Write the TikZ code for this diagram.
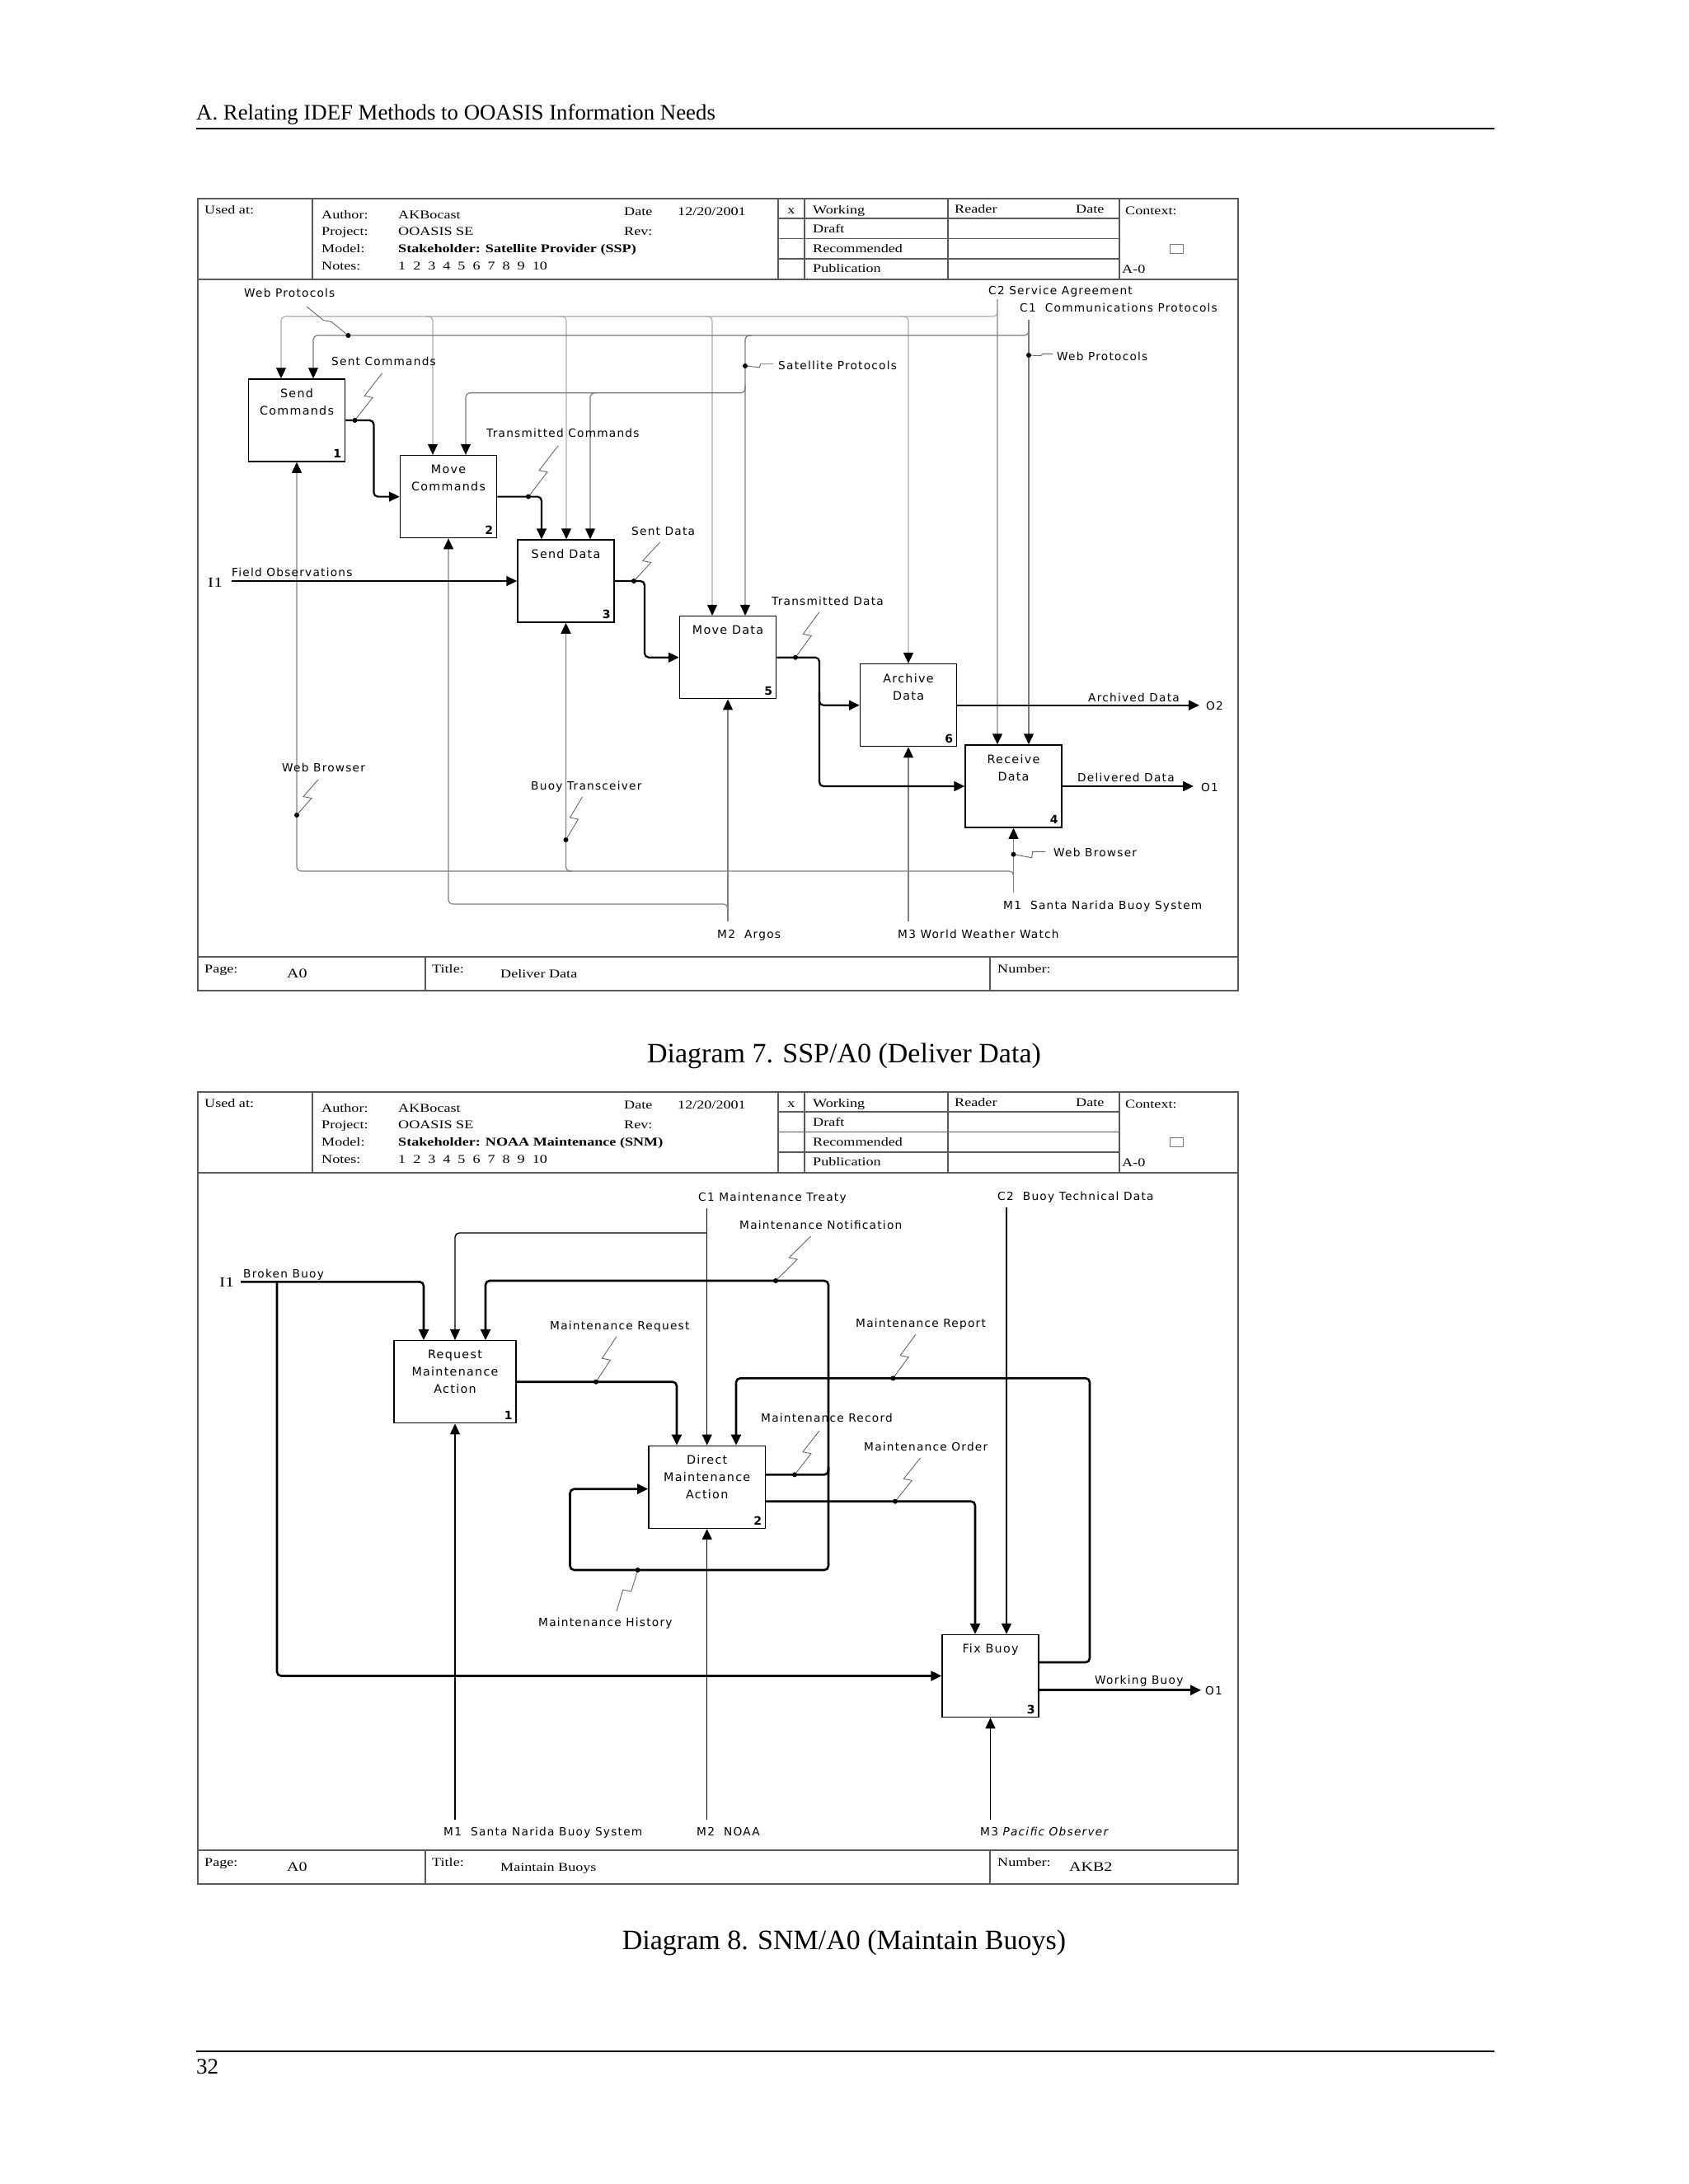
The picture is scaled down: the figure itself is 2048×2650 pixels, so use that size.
\documentclass[tikz,border=0pt]{standalone}
\usepackage{fontspec}
\usepackage{graphicx}
\setmainfont{Liberation Serif}
\newfontfamily\idf[LetterSpace=9]{DejaVu Sans}
\newfontfamily\idfb{DejaVu Sans}
\newfontfamily\hdr[FakeStretch=1.25]{Liberation Serif}
\usetikzlibrary{arrows.meta,calc}
\colorlet{ctwo}{black!32}
\colorlet{cone}{black!52}
\colorlet{cmech}{black!50}

\newcommand\sqg[2]{\draw[sq] (#1) -- ($(#1)!0.5!(#2)+(5,1)$) -- ($(#1)!0.5!(#2)+(-5,-1)$) -- (#2);}

\newcommand\idefframe[4]{%
\begin{scope}[shift={(0,#1)}]
\draw[frm] (240,241) rectangle (1502,1202);
\draw[frm] (240,339) -- (1502,339) (240,1161) -- (1502,1161)
  (379,241) -- (379,339) (944,241) -- (944,339) (976,241) -- (976,339)
  (1150,241) -- (1150,339) (1358,241) -- (1358,339)
  (944,265) -- (1358,265) (944,289.5) -- (1358,289.5) (944,314) -- (1358,314)
  (516,1161) -- (516,1202) (1201,1161) -- (1201,1202);
\draw[black!55, line width=0.8pt] (1419,296) rectangle (1435,307);
\node[hd] at (248,259) {Used at:};
\node[hd] at (390,265) {Author:};
\node[hd] at (390,285.5) {Project:};
\node[hd] at (390,306) {Model:};
\node[hd] at (390,327) {Notes:};
\node[hd] at (483,265) {AKBocast};
\node[hd] at (483,285.5) {OOASIS SE};
\node[hd] at (483,306) {\bfseries #2};
\node[hd] at (483,327) {1\hspace{9pt}2\hspace{9pt}3\hspace{9pt}4\hspace{9pt}5\hspace{9pt}6\hspace{9pt}7\hspace{9pt}8\hspace{9pt}9\hspace{9pt}10};
\node[hd] at (757,261) {Date};
\node[hd] at (822,261) {12/20/2001};
\node[hd] at (757,285.5) {Rev:};
\node[hd,anchor=base] at (960,259) {x};
\node[hd] at (986,259) {Working};
\node[hd] at (986,282) {Draft};
\node[hd] at (986,306) {Recommended};
\node[hd] at (986,330) {Publication};
\node[hd] at (1158,258) {Reader};
\node[hd] at (1305,258) {Date};
\node[hd] at (1365,260) {Context:};
\node[hd] at (1361,331) {A-0};
\node[hd] at (248,1180) {Page:};
\node[hd,font=\hdr\fontsize{16}{18}\selectfont] at (348,1186) {A0};
\node[hd] at (524,1180) {Title:};
\node[hd] at (607,1186) {#3};
\node[hd] at (1210,1180) {Number:};
\node[hd,font=\hdr\fontsize{16}{18}\selectfont] at (1297,1186) {#4};
\end{scope}}

\begin{document}
\begin{tikzpicture}[x=1pt,y=-1pt,
  lbl/.style={font=\idf\fontsize{13.7}{21}\selectfont, inner sep=0pt, anchor=base west},
  hd/.style={font=\hdr\fontsize{14.5}{17}\selectfont, inner sep=0pt, anchor=base west},
  boxt/.style={font=\idf\fontsize{14.3}{21}\selectfont, align=center, anchor=north, inner sep=0pt},
  num/.style={font=\idfb\bfseries\fontsize{14}{16}\selectfont, inner sep=0pt},
  fbox/.style={draw=black, line width=1.5pt, minimum width=117pt, minimum height=100pt, inner sep=0pt},
  frm/.style={draw=black!65, line width=1.3pt},
  arrK/.style={-{Triangle[length=13pt,width=12pt,color=black]}},
  flow/.style={draw=black, line width=2.2pt, rounded corners=5pt},
  flowB/.style={draw=black, line width=2.6pt, rounded corners=5pt},
  ctl/.style={line width=1.2pt, rounded corners=5pt},
  thn/.style={draw=black, line width=1.4pt, rounded corners=5pt},
  sq/.style={draw=black!60, line width=0.9pt},
  dot/.style={circle, fill=black, inner sep=0pt, minimum size=6pt},
]
\useasboundingbox (0,0) rectangle (2048,2650);
\fill[white] (0,0) rectangle (2048,2650);

% page header and footer
\node[font=\fontsize{26.8}{30}\selectfont, anchor=base west, inner sep=0pt] (pghead) at (238,145) {A. Relating IDEF Methods to OOASIS Information Needs};
\draw[line width=2.5pt] (238,156) -- (1813,156);
\draw[line width=2.5pt] (238,2489) -- (1813,2489);
\node[font=\fontsize{27}{30}\selectfont, anchor=base west, inner sep=0pt] (pgnum) at (238,2516) {32};
\node[font=\fontsize{34}{40}\selectfont, anchor=base, inner sep=0pt] (cap7) at (1024,1289) {Diagram 7. SSP/A0 (Deliver Data)};
\node[font=\fontsize{34}{40}\selectfont, anchor=base, inner sep=0pt] (cap8) at (1024,2365) {Diagram 8. SNM/A0 (Maintain Buoys)};

% frames
\idefframe{0}{Stakeholder: Satellite Provider (SSP)}{Deliver Data}{}
\idefframe{1084}{Stakeholder: NOAA Maintenance (SNM)}{Maintain Buoys}{AKB2}

%================ DIAGRAM 7 ================
\node[fbox] (b1) at (360,510) {};
\node[fbox] (b2) at (544,602.6) {};
\node[fbox] (b3) at (686.5,705) {};
\node[fbox] (b5) at (883,797.7) {};
\node[fbox] (b6) at (1102,855.7) {};
\node[fbox] (b4) at (1229.5,954) {};
\node[boxt] (t1) at ($(b1.north)+(0,12)$) {Send\\Commands};
\node[boxt] (t2) at ($(b2.north)+(0,12)$) {Move\\Commands};
\node[boxt] (t3) at ($(b3.north)+(0,12)$) {Send Data};
\node[boxt] (t5) at ($(b5.north)+(0,12)$) {Move Data};
\node[boxt] (t6) at ($(b6.north)+(0,12)$) {Archive\\Data};
\node[boxt] (t4) at ($(b4.north)+(0,12)$) {Receive\\Data};
\node[num] (n1) at ($(b1.south east)+(-10,-10)$) {1};
\node[num] (n2) at ($(b2.south east)+(-10,-10)$) {2};
\node[num] (n3) at ($(b3.south east)+(-10,-10)$) {3};
\node[num] (n5) at ($(b5.south east)+(-10,-10)$) {5};
\node[num] (n6) at ($(b6.south east)+(-10,-10)$) {6};
\node[num] (n4) at ($(b4.south east)+(-10,-10)$) {4};

% boundary coordinates
\coordinate (cC2) at (1210,363);
\coordinate (cC1) at (1248,388);
\coordinate (cI1) at (281,705);
\coordinate (cO2) at (1455,855.7);
\coordinate (cO1) at (1448,954);
\coordinate (cM1) at (1229.5,1083);
\coordinate (cM2) at (883,1118);
\coordinate (cM3) at (1102,1118);

% C2 service agreement (light gray)
\draw[ctl,ctwo,arrK] (cC2) -- (b4.north -| 1210,0);
\draw[ctl,ctwo,arrK] (1210,376) -- (1210,384) -- (341,384) -- (b1.north -| 341,0);
\draw[ctl,ctwo,arrK] (517,384) -- (525,384) -- (b2.north -| 525,0);
\draw[ctl,ctwo,arrK] (679,384) -- (687,384) -- (b3.north -| 687,0);
\draw[ctl,ctwo,arrK] (856,384) -- (864,384) -- (b5.north -| 864,0);
\draw[ctl,ctwo,arrK] (1094,384) -- (1102,384) -- (b6.north);

% C1 communications protocols (mid gray)
\draw[ctl,cone,arrK] (cC1) -- (b4.north -| 1248,0);
\draw[ctl,cone,arrK] (1248,398) -- (1248,407) -- (380,407) -- (b1.north -| 380,0);
\draw[ctl,cone,arrK] (912,407) -- (904,407) -- (b5.north -| 904,0);
\draw[ctl,cone,arrK] (904,468) -- (904,476.7) -- (565,476.7) -- (b2.north -| 565,0);
\draw[ctl,cone,arrK] (724,476.7) -- (716,476.7) -- (b3.north -| 716,0);

% mechanisms
\draw[ctl,cmech,arrK] (cM1) -- (b4.south);
\draw[ctl,cmech,arrK] (1229.5,1066) -- (1229.5,1057) -- (360,1057) -- (b1.south);
\draw[ctl,cmech,arrK] (694,1057) -- (686.5,1057) -- (b3.south);
\draw[ctl,cmech,arrK] (cM2) -- (b5.south);
\draw[ctl,cmech,arrK] (883,1106) -- (883,1097) -- (544,1097) -- (b2.south);
\draw[ctl,cmech,arrK] (cM3) -- (b6.south);

% flows
\draw[flow,arrK] (b1.east) -- (453.4,510) -- (453.4,602.6) -- (b2.west);
\draw[flow,arrK] (b2.east) -- (657,602.6) -- (b3.north -| 657,0);
\draw[flow,arrK] (cI1) -- (b3.west);
\draw[flow,arrK] (b3.east) -- (782,705) -- (782,797.7) -- (b5.west);
\draw[flow,arrK] (b5.east) -- (994,797.7) -- (994,855.7) -- (b6.west);
\draw[flow,arrK] (994,840) -- (994,954) -- (b4.west);
\draw[flow,arrK] (b6.east) -- (cO2);
\draw[flow,arrK] (b4.east) -- (cO1);

% dots
\node[dot] (dWP1) at (422.4,407) {};
\node[dot] (dSC) at (430.5,510) {};
\node[dot] (dTC) at (641,602.6) {};
\node[dot] (dSD) at (769,705) {};
\node[dot] (dSP) at (904,444) {};
\node[dot] (dWP2) at (1248,431) {};
\node[dot] (dTD) at (965,797.7) {};
\node[dot] (dWB1) at (360,989) {};
\node[dot] (dBT) at (686.5,1019) {};
\node[dot] (dWB2) at (1229.5,1036.7) {};

% squiggles
\sqg{dWP1}{372,372}
\sqg{dSC}{463.7,452.7}
\sqg{dTC}{677,541}
\sqg{dSD}{800.5,658}
\sqg{dTD}{993.6,743}
\sqg{dWB1}{386,946}
\sqg{dBT}{706.5,967}
\draw[sq] (dSP) -- (921.4,445.7) -- (922.7,441.7) -- (938,441.7);
\draw[sq] (dWP2) -- (1262.6,431.7) -- (1264.8,429.3) -- (1277,429.3);
\draw[sq] (dWB2) -- (1251.7,1040.7) -- (1252.7,1033.3) -- (1268.3,1033.3);

% labels
\node[lbl] (lWP1) at (296,360) {Web Protocols};
\node[lbl] (lSC) at (402,443) {Sent Commands};
\node[lbl] (lTC) at (590,530) {Transmitted Commands};
\node[lbl] (lSD) at (766,649) {Sent Data};
\node[lbl] (lFO) at (281,699) {Field Observations};
\node[hd,font=\hdr\fontsize{17}{19}\selectfont] (lI1) at (252,712) {I1};
\node[lbl] (lSP) at (944,448) {Satellite Protocols};
\node[lbl] (lC2) at (1199,357) {C2 Service Agreement};
\node[lbl] (lC1) at (1237,378) {C1\ \ Communications Protocols};
\node[lbl] (lWP2) at (1282,437) {Web Protocols};
\node[lbl] (lTD) at (936,734) {Transmitted Data};
\node[lbl] (lAD) at (1320,851) {Archived Data};
\node[lbl] (lO2) at (1463,861) {O2};
\node[lbl] (lDD) at (1307,948) {Delivered Data};
\node[lbl] (lO1) at (1457,960) {O1};
\node[lbl] (lWB1) at (342,936) {Web Browser};
\node[lbl] (lBT) at (644,958) {Buoy Transceiver};
\node[lbl] (lWB2) at (1278,1039) {Web Browser};
\node[lbl] (lM1) at (1217,1103) {M1\ \ Santa Narida Buoy System};
\node[lbl] (lM2) at (870,1138) {M2\ \ Argos};
\node[lbl] (lM3) at (1089,1138) {M3 World Weather Watch};

%================ DIAGRAM 8 ================
\node[fbox, minimum width=148pt] (d1) at (552,1676.7) {};
\node[fbox, minimum width=141.5pt] (d2) at (857.7,1804.3) {};
\node[fbox] (d3) at (1201.5,2033.5) {};
\node[boxt] (u1) at ($(d1.north)+(0,12)$) {Request\\Maintenance\\Action};
\node[boxt] (u2) at ($(d2.north)+(0,12)$) {Direct\\Maintenance\\Action};
\node[boxt] (u3) at ($(d3.north)+(0,12)$) {Fix Buoy};
\node[num] (m1n) at ($(d1.south east)+(-10,-10)$) {1};
\node[num] (m2n) at ($(d2.south east)+(-10,-10)$) {2};
\node[num] (m3n) at ($(d3.south east)+(-10,-10)$) {3};

\coordinate (eC1) at (857.7,1466);
\coordinate (eC2) at (1221,1465);
\coordinate (eI1) at (292,1555.3);
\coordinate (eO1) at (1457,2050.7);
\coordinate (eM1) at (552,2208);
\coordinate (eM2) at (857.7,2208);
\coordinate (eM3) at (1201.5,2208);

% controls and mechanisms
\draw[thn,arrK] (eC1) -- (d2.north);
\draw[thn,arrK] (857.7,1496) -- (552,1496) -- (d1.north);
\draw[thn,arrK] (eC2) -- (d3.north -| 1221,0);
\draw[thn,arrK] (eM1) -- (d1.south);
\draw[thn,arrK] (eM2) -- (d2.south);
\draw[thn,arrK] (eM3) -- (d3.south);

% flows
\draw[flowB,arrK] (eI1) -- (514,1555.3) -- (d1.north -| 514,0);
\draw[flowB,arrK] (336,1555.3) -- (336,2033.5) -- (d3.west);
\draw[flowB,arrK] (d1.east) -- (821,1676.7) -- (d2.north -| 821,0);
\draw[flowB,arrK] (d2.east |- 0,1789.3) -- (1005,1789.3) -- (1005,1554) -- (589,1554) -- (d1.north -| 589,0);
\draw[flowB,arrK] (1005,1780) -- (1005,1905) -- (691.5,1905) -- (691.5,1806.7) -- (d2.west |- 0,1806.7);
\draw[flowB,arrK] (d2.east |- 0,1821.7) -- (1183,1821.7) -- (d3.north -| 1183,0);
\draw[flowB,arrK] (d3.east |- 0,2017) -- (1322,2017) -- (1322,1672.3) -- (893,1672.3) -- (d2.north -| 893,0);
\draw[flowB,arrK] (d3.east |- 0,2050.7) -- (eO1);

% dots
\node[dot] (gMN) at (941,1554) {};
\node[dot] (gMQ) at (723,1676.7) {};
\node[dot] (gMP) at (1083.4,1672.3) {};
\node[dot] (gMR) at (964,1789.3) {};
\node[dot] (gMO) at (1086,1821.7) {};
\node[dot] (gMH) at (773.6,1905) {};
\sqg{gMN}{983.5,1500}
\sqg{gMQ}{748,1621.7}
\sqg{gMP}{1111,1619}
\sqg{gMR}{994,1736}
\sqg{gMO}{1116.5,1769}
\sqg{gMH}{748,1955}

% labels
\node[lbl] (kC1) at (847,1457) {C1 Maintenance Treaty};
\node[lbl] (kC2) at (1210,1456) {C2\ \ Buoy Technical Data};
\node[lbl] (kMN) at (897,1491) {Maintenance Notification};
\node[lbl] (kBB) at (295,1550) {Broken Buoy};
\node[hd,font=\hdr\fontsize{17}{19}\selectfont] (kI1) at (266,1561) {I1};
\node[lbl] (kMQ) at (667,1613) {Maintenance Request};
\node[lbl] (kMP) at (1038,1610) {Maintenance Report};
\node[lbl] (kMR) at (923,1725) {Maintenance Record};
\node[lbl] (kMO) at (1048,1760) {Maintenance Order};
\node[lbl] (kMH) at (653,1973) {Maintenance History};
\node[lbl] (kWB) at (1328,2043) {Working Buoy};
\node[lbl] (kO1) at (1462,2056.7) {O1};
\node[lbl] (kM1) at (538,2227) {M1\ \ Santa Narida Buoy System};
\node[lbl] (kM2) at (845,2227) {M2\ \ NOAA};
\node[lbl] (kM3) at (1189,2227) {M3 \textit{Pacific Observer}};
\end{tikzpicture}
\end{document}
